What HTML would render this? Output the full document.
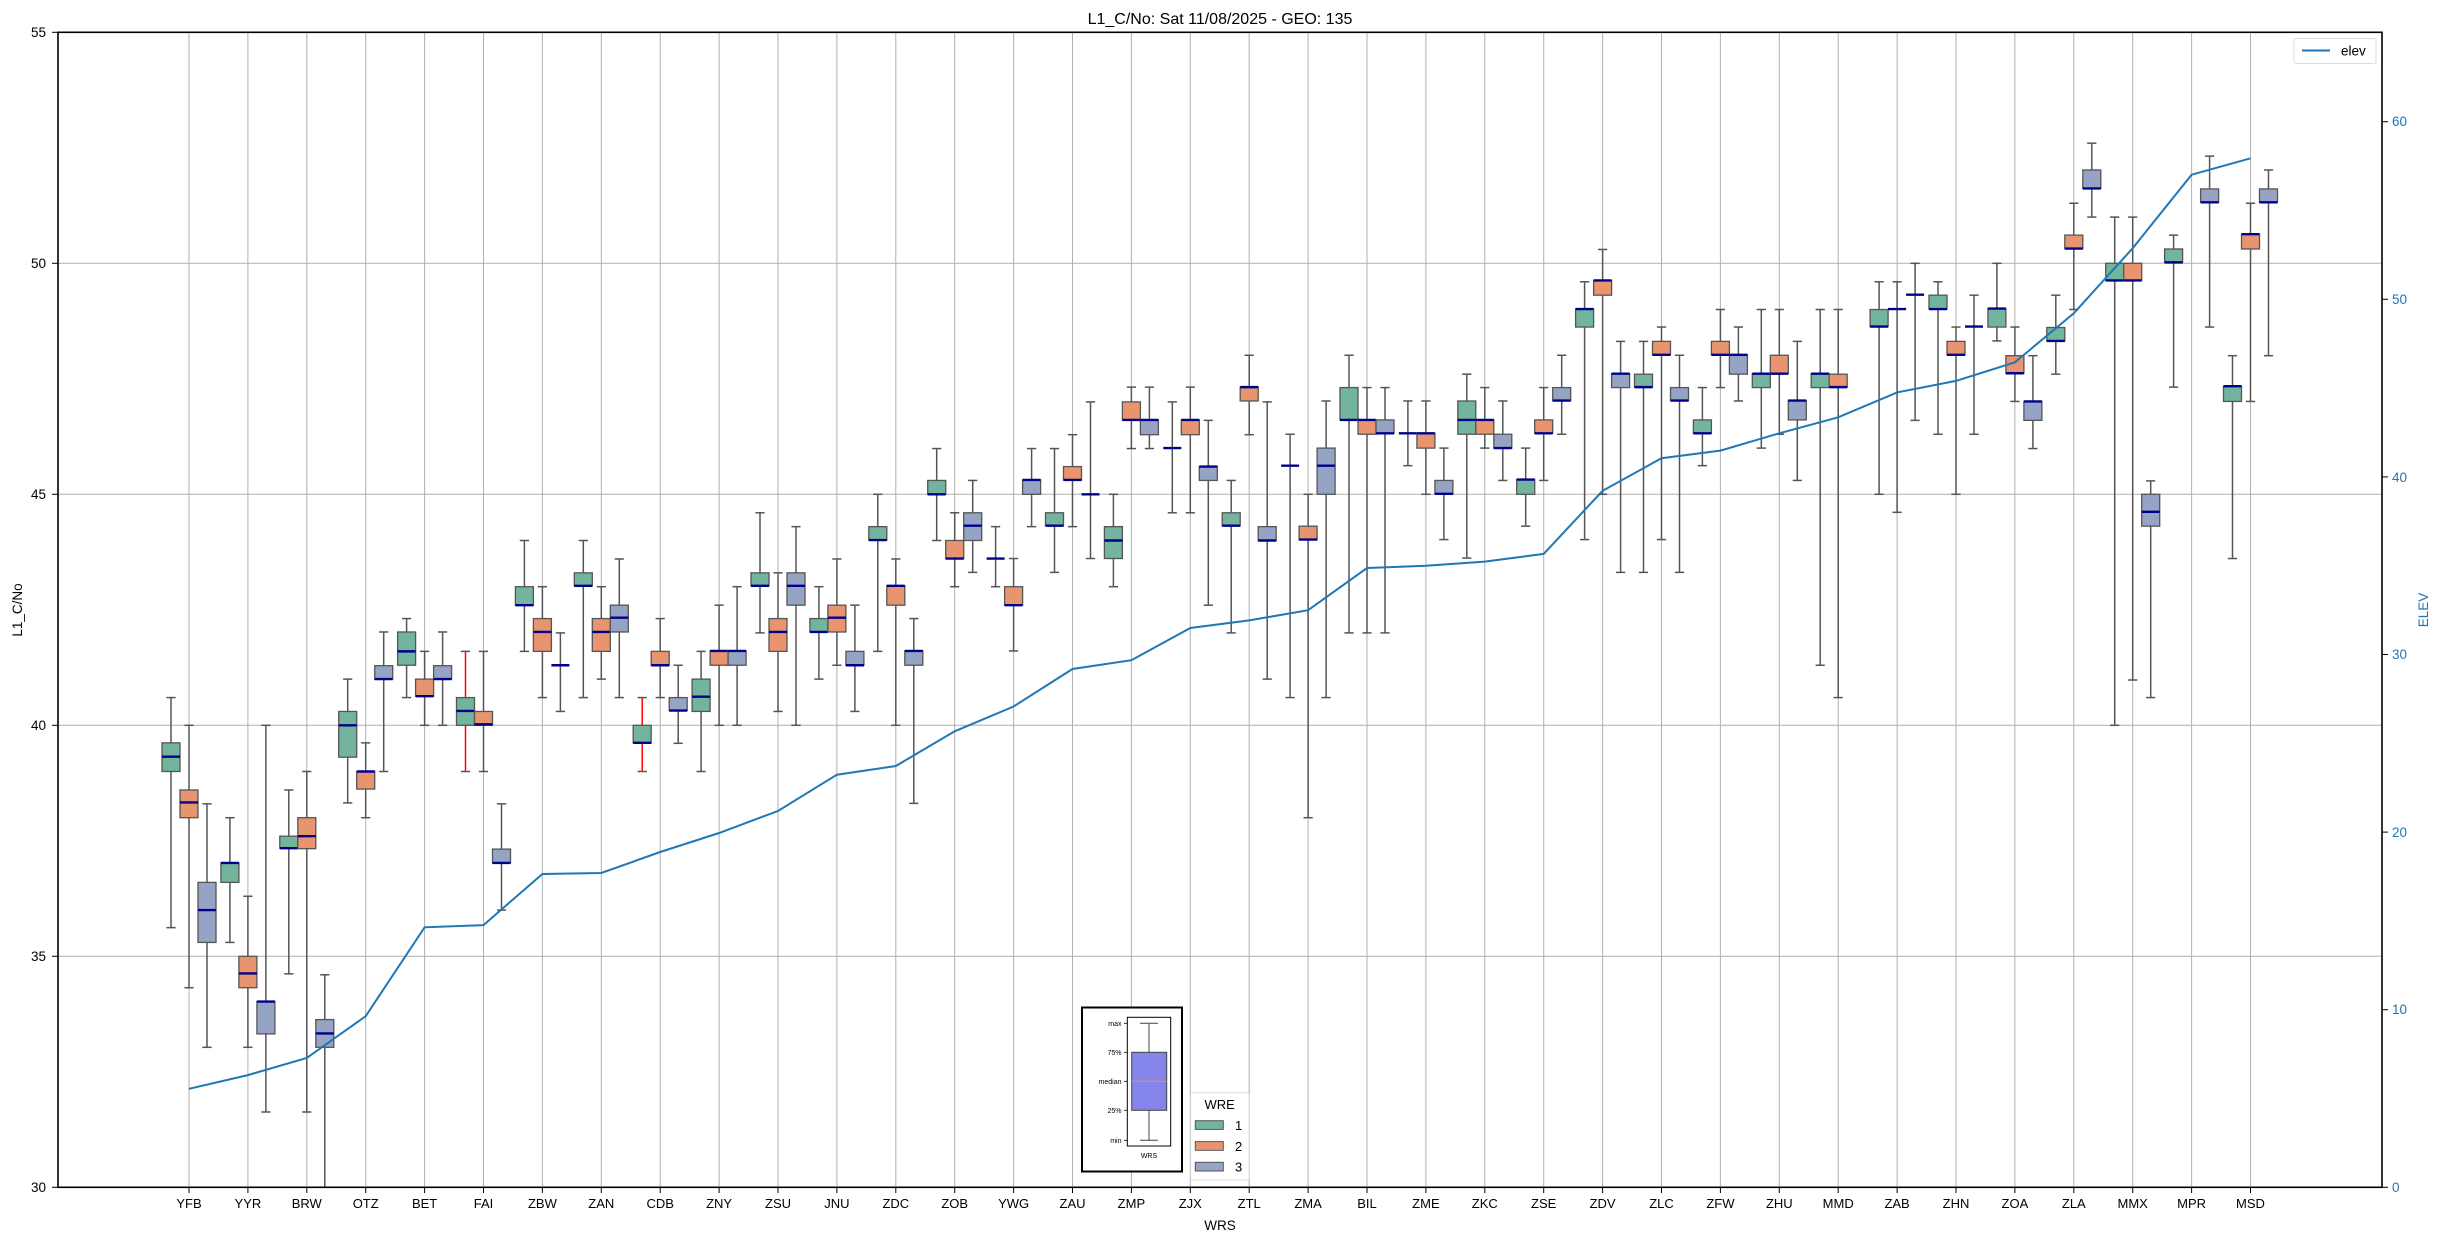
<!DOCTYPE html>
<html><head><meta charset="utf-8"><style>
html,body{margin:0;padding:0;background:#fff}
svg text{font-family:"Liberation Sans","DejaVu Sans",sans-serif}
</style></head><body>
<svg id="s" xmlns="http://www.w3.org/2000/svg" width="2438" height="1240" viewBox="0 0 2438 1240">
<rect x="0" y="0" width="2438" height="1240" fill="#fff"/>
<g id="grid"></g>
<g id="boxes"></g>
<g id="elev"></g>
<text x="1220" y="24" font-size="16" text-anchor="middle">L1_C/No: Sat 11/08/2025 - GEO: 135</text>
<text transform="translate(22,610) rotate(-90)" font-size="13.5" text-anchor="middle">L1_C/No</text>
<text x="1220" y="1230" font-size="13.5" text-anchor="middle">WRS</text>
<text transform="translate(2428,610) rotate(-90)" font-size="13.5" text-anchor="middle" fill="#1f77b4">ELEV</text>
<g font-size="13.5" text-anchor="end">
<text x="46" y="1192">30</text><text x="46" y="961">35</text><text x="46" y="730">40</text>
<text x="46" y="499">45</text><text x="46" y="268">50</text><text x="46" y="37">55</text>
</g>
<g font-size="13.5" fill="#1f77b4">
<text x="2392" y="1192">0</text><text x="2392" y="1014">10</text><text x="2392" y="837">20</text>
<text x="2392" y="659">30</text><text x="2392" y="482">40</text><text x="2392" y="304">50</text><text x="2392" y="126">60</text>
</g>
<g font-size="13" text-anchor="middle" id="xl">
<text x="189" y="1208">YFB</text><text x="247.9" y="1208">YYR</text><text x="306.8" y="1208">BRW</text><text x="365.7" y="1208">OTZ</text>
<text x="424.6" y="1208">BET</text><text x="483.5" y="1208">FAI</text><text x="542.4" y="1208">ZBW</text><text x="601.3" y="1208">ZAN</text>
<text x="660.2" y="1208">CDB</text><text x="719.1" y="1208">ZNY</text><text x="778" y="1208">ZSU</text><text x="836.9" y="1208">JNU</text>
<text x="895.8" y="1208">ZDC</text><text x="954.7" y="1208">ZOB</text><text x="1013.6" y="1208">YWG</text><text x="1072.5" y="1208">ZAU</text>
<text x="1131.4" y="1208">ZMP</text><text x="1190.3" y="1208">ZJX</text><text x="1249.2" y="1208">ZTL</text><text x="1308.1" y="1208">ZMA</text>
<text x="1367" y="1208">BIL</text><text x="1425.9" y="1208">ZME</text><text x="1484.8" y="1208">ZKC</text><text x="1543.7" y="1208">ZSE</text>
<text x="1602.6" y="1208">ZDV</text><text x="1661.5" y="1208">ZLC</text><text x="1720.4" y="1208">ZFW</text><text x="1779.3" y="1208">ZHU</text>
<text x="1838.2" y="1208">MMD</text><text x="1897.1" y="1208">ZAB</text><text x="1956" y="1208">ZHN</text><text x="2014.9" y="1208">ZOA</text>
<text x="2073.8" y="1208">ZLA</text><text x="2132.7" y="1208">MMX</text><text x="2191.6" y="1208">MPR</text><text x="2250.5" y="1208">MSD</text>
</g>
<rect x="58" y="32.3" width="2324" height="1155" fill="none" stroke="#000" stroke-width="1.6"/>
<!-- inset -->
<rect x="1082" y="1007.5" width="100" height="164" fill="#fff" stroke="#000" stroke-width="2"/>
<rect x="1127.3" y="1017.3" width="43.4" height="128.7" fill="#fff" stroke="#000" stroke-width="1"/>
<line x1="1149" y1="1023.3" x2="1149" y2="1140.3" stroke="#444" stroke-width="1"/>
<line x1="1140" y1="1023.3" x2="1158" y2="1023.3" stroke="#444" stroke-width="1"/>
<line x1="1140" y1="1140.3" x2="1158" y2="1140.3" stroke="#444" stroke-width="1"/>
<rect x="1131.7" y="1052.3" width="35" height="58" fill="#8484ea" stroke="#444" stroke-width="1"/>
<line x1="1131.7" y1="1081.3" x2="1166.7" y2="1081.3" stroke="#ff8c1a" stroke-width="1"/>
<g font-size="7" text-anchor="end">
<text x="1121.5" y="1025.8">max</text><text x="1121.5" y="1054.8">75%</text><text x="1121.5" y="1083.8">median</text>
<text x="1121.5" y="1112.8">25%</text><text x="1121.5" y="1142.8">min</text>
</g>
<g stroke="#000" stroke-width="0.8">
<line x1="1124" y1="1023.3" x2="1127.3" y2="1023.3"/><line x1="1124" y1="1052.3" x2="1127.3" y2="1052.3"/>
<line x1="1124" y1="1081.3" x2="1127.3" y2="1081.3"/><line x1="1124" y1="1110.3" x2="1127.3" y2="1110.3"/>
<line x1="1124" y1="1140.3" x2="1127.3" y2="1140.3"/>
</g>
<text x="1149" y="1158" font-size="7" text-anchor="middle">WRS</text>
<!-- WRE legend -->
<rect x="1190.7" y="1092.7" width="58.3" height="87.3" rx="2" fill="#fff" fill-opacity="0.8" stroke="#ddd" stroke-width="1"/>
<text x="1219.7" y="1109" font-size="13" text-anchor="middle">WRE</text>
<rect x="1195.3" y="1120.7" width="28" height="8.7" fill="#72b49e" stroke="#555" stroke-width="1"/>
<rect x="1195.3" y="1141.6" width="28" height="8.7" fill="#e8956f" stroke="#555" stroke-width="1"/>
<rect x="1195.3" y="1162.3" width="28" height="8.7" fill="#95a3c4" stroke="#555" stroke-width="1"/>
<g font-size="13"><text x="1235" y="1130">1</text><text x="1235" y="1151">2</text><text x="1235" y="1171.5">3</text></g>
<!-- elev legend -->
<rect x="2294" y="38.5" width="82" height="25" rx="2" fill="#fff" stroke="#ddd" stroke-width="1"/>
<line x1="2302" y1="50.5" x2="2330" y2="50.5" stroke="#1f77b4" stroke-width="2"/>
<text x="2341" y="55.5" font-size="13.5">elev</text>
</svg>
<script>
(function(){
var NS="http://www.w3.org/2000/svg";
function el(p,t,a){var e=document.createElementNS(NS,t);for(var k in a)e.setAttribute(k,a[k]);p.appendChild(e);return e;}
function Y(v){return 32.3+(55-v)*46.2;}
function X(i){return 189+i*58.9;}
var grid=document.getElementById('grid'),bx=document.getElementById('boxes'),ev=document.getElementById('elev'),svg=document.getElementById('s');
[35,40,45,50].forEach(function(v){el(grid,'line',{x1:58,x2:2382,y1:Y(v),y2:Y(v),stroke:'#b0b0b0','stroke-width':1});});
[30,35,40,45,50,55].forEach(function(v){el(svg,'line',{x1:52,x2:58,y1:Y(v),y2:Y(v),stroke:'#000','stroke-width':1});});
for(var r=0;r<=60;r+=10){var yy=1187.3-r*17.76;el(svg,'line',{x1:2382,x2:2388,y1:yy,y2:yy,stroke:'#000','stroke-width':1});}
for(var i=0;i<36;i++){el(grid,'line',{x1:X(i),x2:X(i),y1:32.3,y2:1187.3,stroke:'#b0b0b0','stroke-width':1});
el(svg,'line',{x1:X(i),x2:X(i),y1:1187.3,y2:1193,stroke:'#000','stroke-width':1});}
var D=[
[[35.62,39.0,39.32,39.62,40.6],[34.32,38.0,38.33,38.6,40.0],[33.03,35.3,36.0,36.6,38.3]],
[[35.3,36.6,37.02,37.02,38.0],[33.03,34.32,34.63,35.0,36.3],[31.63,33.32,34.02,34.02,40.0]],
[[34.62,37.34,37.34,37.6,38.6],[31.63,37.33,37.6,38.0,39.0],[29,33.03,33.33,33.63,34.6]],
[[38.32,39.31,40.0,40.3,41.0],[38.0,38.62,39.0,39.0,39.62],[39.0,41.0,41.0,41.29,42.02]],
[[40.6,41.3,41.6,42.02,42.31],[40.0,40.63,40.63,41.0,41.6],[40.0,41.0,41.0,41.29,42.02]],
[[39.0,40.0,40.31,40.6,41.6,1],[39.0,40.0,40.02,40.3,41.6],[36.0,37.02,37.02,37.32,38.3]],
[[41.6,42.6,42.6,43.0,44.0],[40.6,41.6,42.02,42.31,43.0],[40.3,41.3,41.3,41.3,42.0]],
[[40.6,43.02,43.02,43.3,44.0],[41.0,41.6,42.02,42.31,43.0],[40.6,42.02,42.33,42.6,43.6]],
[[39.0,39.62,39.62,40.0,40.6,1],[40.6,41.3,41.3,41.6,42.31],[39.61,40.32,40.32,40.6,41.3]],
[[39.0,40.3,40.62,41.0,41.6],[40.0,41.3,41.61,41.61,42.6],[40.0,41.3,41.61,41.61,43.0]],
[[42.0,43.02,43.02,43.3,44.6],[40.3,41.6,42.02,42.31,43.3],[40.0,42.6,43.02,43.3,44.3]],
[[41.0,42.02,42.02,42.31,43.0],[41.3,42.02,42.33,42.6,43.6],[40.3,41.3,41.3,41.6,42.6]],
[[41.6,44.01,44.01,44.3,45.0],[40.0,42.6,43.02,43.02,43.6],[38.31,41.3,41.61,41.61,42.31]],
[[44.0,45.0,45.0,45.3,45.99],[43.0,43.61,43.61,44.0,44.6],[43.31,44.0,44.32,44.6,45.3]],
[[43.0,43.61,43.61,43.61,44.3],[41.61,42.6,42.6,43.0,43.61],[44.3,45.0,45.31,45.31,45.99]],
[[43.31,44.32,44.32,44.6,45.99],[44.3,45.31,45.31,45.6,46.29],[43.61,45.0,45.0,45.0,47.0]],
[[43.0,43.61,44.0,44.3,45.0],[45.99,46.61,46.61,47.0,47.32],[45.99,46.29,46.61,46.61,47.32]],
[[44.6,46.0,46.0,46.0,47.0],[44.6,46.29,46.61,46.61,47.32],[42.6,45.3,45.6,45.6,46.6]],
[[42.0,44.32,44.32,44.6,45.3],[46.29,47.02,47.32,47.32,48.01],[41.0,44.0,44.0,44.3,47.0]],
[[40.6,45.62,45.62,45.62,46.3],[38.0,44.02,44.02,44.31,45.0],[40.6,45.0,45.62,46.0,47.02]],
[[42.0,46.61,46.61,47.31,48.01],[42.0,46.3,46.61,46.61,47.31],[42.0,46.32,46.32,46.61,47.31]],
[[45.62,46.32,46.32,46.32,47.02],[45.0,46.0,46.32,46.32,47.02],[44.02,45.01,45.01,45.3,46.0]],
[[43.62,46.3,46.61,47.02,47.6],[46.0,46.3,46.61,46.61,47.31],[45.3,46.0,46.0,46.3,47.02]],
[[44.31,45.0,45.32,45.32,46.0],[45.3,46.32,46.32,46.61,47.31],[46.3,47.03,47.03,47.31,48.01]],
[[44.02,48.62,49.01,49.01,49.6],[45.0,49.31,49.63,49.63,50.3],[43.31,47.31,47.61,47.61,48.31]],
[[43.31,47.32,47.32,47.6,48.31],[44.02,48.02,48.02,48.31,48.62],[43.31,47.03,47.03,47.31,48.01]],
[[45.62,46.32,46.32,46.61,47.31],[47.31,48.02,48.02,48.31,49.0],[47.02,47.6,48.02,48.02,48.62]],
[[46.0,47.31,47.61,47.61,49.0],[46.3,47.61,47.61,48.01,49.0],[45.3,46.61,47.03,47.03,48.31]],
[[41.3,47.31,47.61,47.61,49.0],[40.6,47.32,47.32,47.6,49.0],null],
[[45.0,48.63,48.63,49.0,49.6],[44.61,49.01,49.01,49.01,49.6],[46.6,49.32,49.32,49.32,50.0]],
[[46.3,49.01,49.01,49.31,49.6],[45.0,48.02,48.02,48.31,48.62],[46.3,48.63,48.63,48.63,49.31]],
[[48.32,48.62,49.02,49.02,50.0],[47.01,47.62,47.62,48.0,48.62],[45.99,46.6,47.01,47.01,48.0]],
[[47.6,48.32,48.32,48.61,49.31],[49.0,50.32,50.32,50.61,51.3],[51.0,51.62,51.62,52.02,52.6]],
[[40.0,49.63,49.63,50.0,51.0],[40.98,49.63,49.63,50.0,51.0],[40.6,44.31,44.62,45.0,45.29]],
[[47.32,50.02,50.02,50.31,50.61],null,[48.62,51.32,51.32,51.61,52.32]],
[[43.61,47.01,47.34,47.34,48.0],[47.01,50.31,50.63,50.63,51.3],[48.0,51.32,51.32,51.61,52.02]]];
var C=['#72b49e','#e8956f','#95a3c4'],OFF=[-18,0,18];
var clip=el(svg,'clipPath',{id:'pc'});el(clip,'rect',{x:58,y:32.3,width:2324,height:1155});
bx.setAttribute('clip-path','url(#pc)');
for(var i=0;i<36;i++)for(var j=0;j<3;j++){var d=D[i][j];if(!d)continue;
var cx=X(i)+OFF[j],w=18,wc=d[5]?'#ff0000':'#555';
el(bx,'line',{x1:cx,x2:cx,y1:Y(d[4]),y2:Y(d[3]),stroke:wc,'stroke-width':1.5});
el(bx,'line',{x1:cx,x2:cx,y1:Y(d[1]),y2:Y(d[0]),stroke:wc,'stroke-width':1.5});
el(bx,'line',{x1:cx-4.6,x2:cx+4.6,y1:Y(d[4]),y2:Y(d[4]),stroke:'#555','stroke-width':1.5});
el(bx,'line',{x1:cx-4.6,x2:cx+4.6,y1:Y(d[0]),y2:Y(d[0]),stroke:'#555','stroke-width':1.5});
var h=Y(d[1])-Y(d[3]);
if(h>0.5)el(bx,'rect',{x:cx-w/2,y:Y(d[3]),width:w,height:h,fill:C[j],stroke:'#555','stroke-width':1.3});
el(bx,'line',{x1:cx-w/2,x2:cx+w/2,y1:Y(d[2]),y2:Y(d[2]),stroke:'#00008b','stroke-width':2.4});}
var E=[1088.8,1075.1,1058,1016.2,927.3,925.1,874,873,852,833,811,774.7,766,731.3,706.5,669,660.2,628,620.4,610.2,568,565.8,561.6,553.9,490.8,458.2,450.6,433.3,417.3,392.4,380.9,362.3,313.3,248.2,174.7,158.3];
var p=E.map(function(y,i){return X(i).toFixed(1)+','+y;}).join(' ');
el(ev,'polyline',{points:p,fill:'none',stroke:'#1f77b4','stroke-width':2});
})();
</script>
</body></html>
